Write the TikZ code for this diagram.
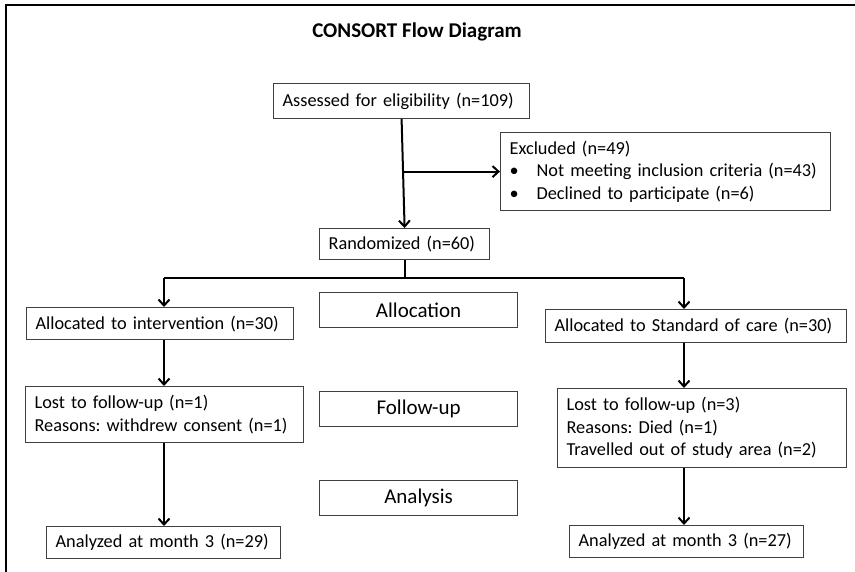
\documentclass[tikz,border=0pt]{standalone}
\usepackage{fontspec}
\setmainfont{Carlito}
\usetikzlibrary{arrows.meta}
\frenchspacing

\newcommand{\bodyfont}{\fontsize{18.3}{22.5}\selectfont}
\newcommand{\stagefont}{\fontsize{21}{25}\selectfont}
\newcommand{\bul}{\makebox[27pt][l]{\textbullet}}

\tikzset{
  box/.style={draw=black!75, line width=1.2pt, anchor=north west, inner xsep=9pt, inner ysep=2pt, align=left, font=\bodyfont},
  stage/.style={draw=black!75, line width=1.2pt, anchor=north west, minimum width=198pt, minimum height=35pt, font=\stagefont},
  flow/.style={line width=2pt, -{Straight Barb[length=6pt,width=11pt]}},
  link/.style={line width=2pt}
}

\begin{document}
\begin{tikzpicture}[x=1pt,y=-1pt]
    \useasboundingbox (0,0) rectangle (855,572);
    % outer frame
    \draw[line width=2pt] (6,572) -- (6,5.5) -- (855,5.5);
    \node[font=\bfseries\fontsize{21}{25}\selectfont] (title) at (417,32) {CONSORT Flow Diagram};

    % enrolment
    \node[box, text width=238pt, minimum height=35pt] (assess) at (273,83) {\mbox{Assessed for eligibility (n=109)}};
    \node[box, text width=312pt, minimum height=78pt] (excl) at (500,132) {\mbox{Excluded (n=49)}\\
      \mbox{\bul Not meeting inclusion criteria (n=43)}\\
      \mbox{\bul Declined to participate (n=6)}};
    \node[box, text width=152pt, minimum height=31pt] (rand) at (319,228) {\mbox{Randomized (n=60)}};

    % stage labels
    \node[stage] (allocation) at (319,292) {Allocation};
    \node[stage] (followup) at (319,391) {Follow-up};
    \node[stage] (analysis) at (319,480) {Analysis};

    % intervention arm
    \node[box, text width=249pt, minimum height=32pt] (allocI) at (26,307) {\mbox{Allocated to intervention (n=30)}};
    \node[box, text width=260pt, minimum height=56pt] (lostI) at (25,386) {\mbox{Lost to follow-up (n=1)}\\\mbox{Reasons: withdrew consent (n=1)}};
    \node[box, text width=216pt, minimum height=32pt] (anaI) at (46,526) {\mbox{Analyzed at month 3 (n=29)}};

    % standard of care arm
    \node[box, text width=283pt, minimum height=33pt] (allocS) at (545,309) {\mbox{Allocated to Standard of care (n=30)}};
    \node[box, text width=271pt, minimum height=79pt] (lostS) at (557,388) {\mbox{Lost to follow-up (n=3)}\\\mbox{Reasons: Died (n=1)}\\\mbox{Travelled out of study area (n=2)}};
    \node[box, text width=216pt, minimum height=32pt] (anaS) at (569,525) {\mbox{Analyzed at month 3 (n=27)}};

    % connectors
    \coordinate (colL) at (164,278);
    \coordinate (colR) at (684,278);
    \draw[flow] (assess.south) -- (rand.north);
    \draw[flow] (assess.south |- excl.west) -- (excl.west);
    \draw[link] (rand.south) -- (rand.south |- colL);
    \draw[link] (colL) -- (colR);
    \draw[flow] (colL) -- (colL |- allocI.north);
    \draw[flow] (colR) -- (colR |- allocS.north);
    \draw[flow] (allocI.south -| colL) -- (lostI.north -| colL);
    \draw[flow] (lostI.south -| colL) -- (anaI.north -| colL);
    \draw[flow] (allocS.south -| colR) -- (lostS.north -| colR);
    \draw[flow] (lostS.south -| colR) -- (anaS.north -| colR);
\end{tikzpicture}
\end{document}
